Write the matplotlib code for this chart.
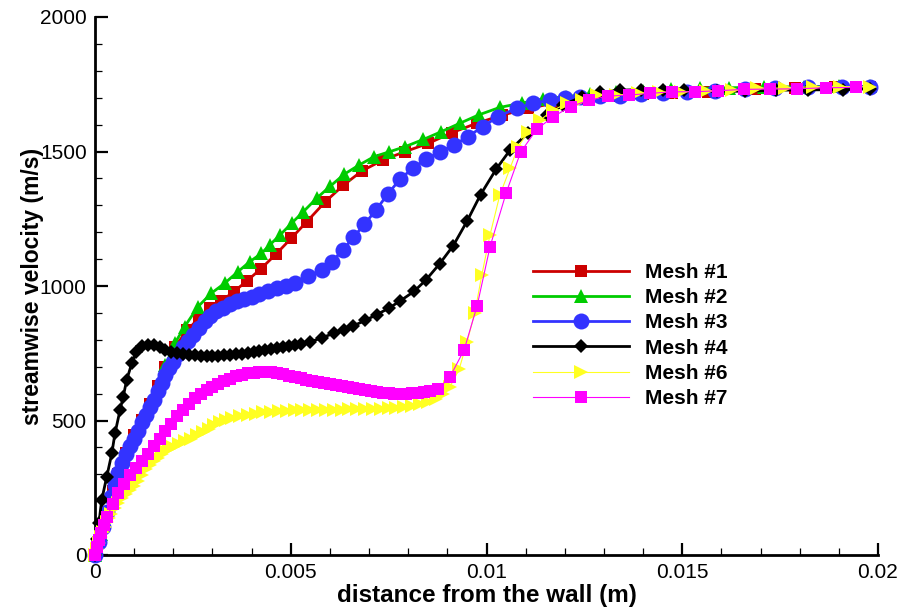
import numpy as np
import matplotlib
matplotlib.use("Agg")
from matplotlib import pyplot as plt

# distances from the wall are typed in mm, velocities in m/s
mesh1_x = [0, 0.15, 0.3, 0.45, 0.6, 0.8, 1.0, 1.2, 1.4, 1.6, 1.8, 2.05, 2.35, 2.65, 2.93,
           3.23, 3.54, 3.89, 4.23, 4.62, 5.01, 5.41, 5.88, 6.34, 6.82, 7.35, 7.91, 8.51,
           9.12, 9.75, 10.4, 11.05, 11.75, 12.5, 13.3, 14.0, 14.73, 15.66, 16.86, 17.88,
           18.9, 19.8]
mesh1_u = [0, 75, 158, 238, 302, 380, 445, 502, 562, 628, 700, 775, 835, 880, 917,
           945, 978, 1020, 1063, 1118, 1177, 1239, 1313, 1374, 1428, 1468, 1499, 1530,
           1570, 1605, 1635, 1660, 1680, 1695, 1706, 1712, 1716, 1722, 1732, 1736,
           1738, 1740]

mesh2_x = [0, 0.15, 0.3, 0.45, 0.6, 0.8, 1.0, 1.2, 1.4, 1.6, 1.8, 2.04, 2.29, 2.63, 2.97,
           3.31, 3.65, 3.95, 4.25, 4.46, 4.73, 5.02, 5.32, 5.66, 6.0, 6.37, 6.75, 7.13,
           7.52, 7.92, 8.39, 8.85, 9.32, 9.8, 10.34, 10.9, 11.45, 12.04, 12.64, 13.3,
           14.0, 14.7, 15.45, 16.2, 17.1, 18.1, 19.0, 19.8]
mesh2_u = [0, 78, 160, 240, 305, 385, 448, 505, 565, 630, 705, 787, 849, 923, 973,
           1010, 1053, 1090, 1121, 1152, 1190, 1233, 1276, 1326, 1370, 1416, 1450, 1481,
           1499, 1518, 1545, 1574, 1605, 1636, 1664, 1680, 1695, 1704, 1714, 1720,
           1726, 1732, 1735, 1737, 1739, 1741, 1742, 1742]

mesh3_x = [0, 0.1, 0.2, 0.3, 0.4, 0.5, 0.6, 0.7, 0.8, 0.9, 1.0, 1.1, 1.2, 1.3, 1.4, 1.5,
           1.6, 1.7, 1.8, 1.9, 2.0, 2.12, 2.24, 2.37, 2.5, 2.65, 2.8, 2.95, 3.1, 3.27,
           3.44, 3.62, 3.8, 4.0, 4.2, 4.42, 4.65, 4.88, 5.1, 5.45, 5.79, 6.05, 6.33, 6.6,
           6.88, 7.18, 7.48, 7.79, 8.11, 8.45, 8.81, 9.17, 9.52, 9.9, 10.3, 10.77, 11.2,
           11.62, 12.0, 12.4, 12.9, 13.4, 13.95, 14.52, 15.11, 15.84, 16.6, 17.37,
           18.21, 19.07, 19.8]
mesh3_u = [0, 50, 105, 160, 215, 262, 305, 343, 377, 405, 432, 462, 493, 522, 550, 578,
           608, 638, 668, 694, 718, 746, 772, 796, 818, 845, 870, 890, 906, 920,
           933, 943, 951, 960, 969, 980, 991, 1000, 1012, 1038, 1059, 1090, 1134, 1181,
           1229, 1283, 1342, 1397, 1437, 1471, 1499, 1524, 1555, 1592, 1630, 1661, 1679,
           1691, 1698, 1703, 1705, 1708, 1712, 1716, 1722, 1726, 1731, 1735,
           1740, 1741, 1741]

mesh4_x = [0, 0.05, 0.1, 0.17, 0.3, 0.43, 0.51, 0.64, 0.72, 0.81, 0.94, 1.06, 1.2, 1.35,
           1.5, 1.65, 1.8, 1.95, 2.1, 2.25, 2.4, 2.55, 2.7, 2.85, 3.0, 3.15, 3.3, 3.45,
           3.6, 3.75, 3.9, 4.05, 4.2, 4.35, 4.5, 4.65, 4.8, 4.95, 5.1, 5.25, 5.5, 5.8,
           6.1, 6.35, 6.6, 6.9, 7.2, 7.5, 7.8, 8.15, 8.45, 8.8, 9.15, 9.5, 9.85, 10.25,
           10.6, 11.05, 11.55, 11.95, 12.45, 12.9, 13.4, 13.95, 14.5, 15.05, 15.9, 16.6,
           17.4, 18.2, 19.1, 19.8]
mesh4_u = [0, 60, 118, 204, 291, 378, 452, 539, 588, 651, 713, 756, 778, 782,
           780, 772, 763, 756, 751, 747, 744, 742, 741, 740, 740, 741, 742, 744,
           746, 748, 751, 755, 759, 763, 767, 771, 775, 778, 781, 784, 792, 808,
           824, 837, 852, 872, 894, 917, 945, 980, 1022, 1082, 1150, 1240, 1340, 1435,
           1505, 1568, 1636, 1673, 1704, 1720, 1728, 1730, 1729, 1728, 1724, 1724,
           1728, 1729, 1730, 1733]

mesh6_x = [0, 0.05, 0.1, 0.15, 0.2, 0.25, 0.3, 0.35, 0.4, 0.5, 0.6, 0.7, 0.8, 0.9, 1.0,
           1.1, 1.2, 1.3, 1.4, 1.5, 1.6, 1.7, 1.8, 1.9, 2.0, 2.15, 2.3, 2.45, 2.6, 2.75,
           2.9, 3.05, 3.2, 3.35, 3.5, 3.7, 3.9, 4.1, 4.3, 4.5, 4.7, 4.9, 5.1, 5.3, 5.5,
           5.7, 5.9, 6.1, 6.3, 6.5, 6.7, 6.9, 7.1, 7.3, 7.5, 7.7, 7.9, 8.1, 8.3, 8.5,
           8.7, 8.9, 9.07, 9.3, 9.5, 9.7, 9.88, 10.09, 10.34, 10.6, 10.81, 11.07, 11.37,
           11.71, 12.05, 12.43, 12.82, 13.32, 13.88, 14.4, 14.98, 15.6, 16.26, 16.9,
           17.62, 18.35, 19.03, 19.8]
mesh6_u = [0, 22, 45, 66, 86, 105, 122, 138, 152, 175, 195, 212, 228, 242, 256,
           275, 298, 318, 335, 350, 362, 374, 385, 395, 403, 413, 423, 433, 446, 458,
           470, 484, 494, 502, 510, 516, 521, 526, 530, 533, 535, 537, 538, 539, 539,
           540, 540, 540, 540, 541, 541, 542, 543, 544, 545, 547, 550, 555, 561, 568,
           580, 598, 626, 690, 790, 900, 1041, 1190, 1338, 1437, 1518, 1574, 1617,
           1654, 1679, 1691, 1710, 1710, 1716, 1720, 1722, 1725, 1727, 1735,
           1736, 1741, 1741, 1741]

mesh7_x = [0, 0.05, 0.1, 0.15, 0.22, 0.3, 0.45, 0.6, 0.75, 0.9, 1.05, 1.2, 1.35, 1.5,
           1.65, 1.8, 1.95, 2.1, 2.25, 2.4, 2.55, 2.7, 2.85, 3.0, 3.15, 3.3, 3.45, 3.6,
           3.75, 3.9, 4.05, 4.2, 4.35, 4.5, 4.65, 4.8, 4.95, 5.1, 5.25, 5.4, 5.55, 5.7,
           5.85, 6.0, 6.15, 6.3, 6.45, 6.6, 6.75, 6.9, 7.05, 7.2, 7.35, 7.5, 7.65, 7.8,
           7.95, 8.1, 8.25, 8.4, 8.55, 8.77, 9.07, 9.43, 9.76, 10.09, 10.5, 10.87, 11.28,
           11.71, 12.15, 12.63, 13.11, 13.65, 14.18, 14.73, 15.33, 15.92, 16.58, 17.24,
           17.92, 18.66, 19.43]
mesh7_u = [0, 30, 57, 80, 112, 140, 188, 230, 265, 296, 323, 350, 376, 404,
           432, 460, 488, 515, 540, 562, 582, 599, 613, 625, 636, 647, 656, 664,
           670, 675, 678, 680, 680, 679, 676, 672, 667, 662, 657, 652, 648, 644,
           640, 636, 633, 629, 625, 621, 617, 613, 609, 606, 603, 601, 600, 599,
           599, 601, 604, 607, 611, 618, 663, 763, 926, 1146, 1345, 1497, 1582,
           1630, 1667, 1691, 1706, 1710, 1716, 1722, 1722, 1726, 1731, 1732,
           1733, 1737, 1738]

labels = ["Mesh #1", "Mesh #2", "Mesh #3", "Mesh #4", "Mesh #6", "Mesh #7"]
x_ticks = [0, 0.005, 0.01, 0.015, 0.02]
x_tick_labels = ["0", "0.005", "0.01", "0.015", "0.02"]
y_ticks = [0, 500, 1000, 1500, 2000]

plt.rcParams["font.family"] = ["Liberation Sans", "DejaVu Sans"]

fig = plt.figure(figsize=(9, 6.1), dpi=100)
ax = fig.add_axes([95 / 900, 1 - 555 / 610, 783 / 900, 538 / 610])

series = [
    (mesh1_x, mesh1_u, "#cc0000", "s", 9.0, 2.0),
    (mesh2_x, mesh2_u, "#00cc00", "^", 10.5, 2.0),
    (mesh3_x, mesh3_u, "#3333ff", "o", 11.5, 2.0),
    (mesh4_x, mesh4_u, "#000000", "D", 7.5, 2.0),
    (mesh6_x, mesh6_u, "#ffff22", ">", 9.5, 0.8),
    (mesh7_x, mesh7_u, "#ff00ff", "s", 9.0, 0.8),
]
for (xs, us, col, mk, ms, lw), lab in zip(series, labels):
    ax.plot(np.array(xs) / 1000.0, us, color=col, marker=mk, markersize=ms,
            markeredgewidth=0, linewidth=lw, label=lab, clip_on=False, zorder=3)

ax.set_xlim(0, 0.02)
ax.set_ylim(0, 2000)
ax.set_xticks(x_ticks)
ax.set_xticklabels(x_tick_labels)
ax.set_yticks(y_ticks)
ax.xaxis.set_minor_locator(plt.MultipleLocator(0.001))
ax.yaxis.set_minor_locator(plt.MultipleLocator(100))

ax.spines["top"].set_visible(False)
ax.spines["right"].set_visible(False)
ax.spines["left"].set_linewidth(2)
ax.spines["bottom"].set_linewidth(2)
ax.tick_params(which="major", direction="in", length=9, width=1.6, labelsize=15, pad=6)
ax.tick_params(which="minor", direction="in", length=5, width=0.9)

ax.set_xlabel("distance from the wall (m)", fontsize=17.5, fontweight="bold", labelpad=1)
ax.set_ylabel("streamwise velocity (m/s)", fontsize=16.5, fontweight="bold", labelpad=-3)

leg = ax.legend(loc="upper left", bbox_to_anchor=(0.559, 0.543), frameon=False,
                borderpad=0, borderaxespad=0, handlelength=4.6, handletextpad=0.8,
                labelspacing=0.3, prop={"weight": "bold", "size": 15})

fig.savefig("out.png", dpi=100)
